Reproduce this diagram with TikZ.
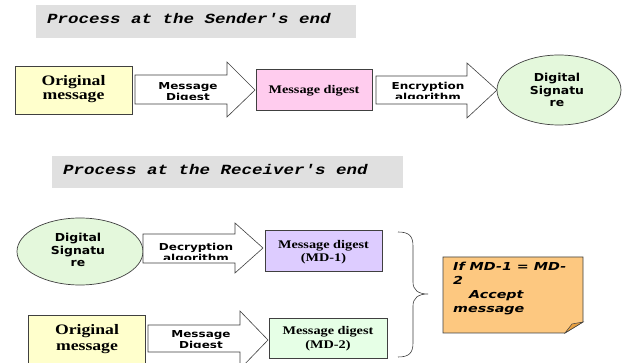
\documentclass[tikz,border=0pt]{standalone}
\usepackage{fontspec}
\usetikzlibrary{shapes.geometric}
\newfontfamily\lblfont[FakeStretch=1.25]{DejaVu Sans}
\newfontfamily\ellfont[FakeStretch=1.13]{DejaVu Sans}
\newfontfamily\notefont[FakeStretch=1.3]{DejaVu Sans}
\newfontfamily\boxfont[FakeStretch=1.22]{Liberation Serif}
\newfontfamily\titlefont[FakeStretch=1.25]{Liberation Mono}
\definecolor{yel}{HTML}{FFFFCC}
\definecolor{pnk}{HTML}{FFCCEE}
\definecolor{grn}{HTML}{E4F8DC}
\definecolor{lav}{HTML}{DDCCFF}
\definecolor{lgrn}{HTML}{E6FFE6}
\definecolor{org}{HTML}{FDC880}
\definecolor{orgd}{HTML}{E8A040}
\definecolor{ttl}{HTML}{E0E0E0}
\definecolor{edge}{HTML}{404040}
\begin{document}
\begin{tikzpicture}[x=1pt,y=-1pt,
  box/.style={draw=edge,line width=0.7pt,inner sep=0pt},
  ell/.style={ellipse,draw=edge,line width=0.7pt,fill=grn,inner sep=0pt},
  barrow/.style={draw=edge,line width=0.6pt,fill=white},
  ttlbox/.style={fill=ttl},
  ttltext/.style={anchor=base west,inner sep=0pt,font=\titlefont\bfseries\itshape\fontsize{14}{14}\selectfont},
  albl/.style={anchor=base,inner sep=0pt,align=center,font=\lblfont\bfseries\fontsize{9.6}{11}\selectfont},
  blbl/.style={anchor=base,inner sep=0pt,align=center},
  elbl/.style={anchor=base,inner sep=0pt,align=center,font=\ellfont\bfseries\fontsize{11}{12.6}\selectfont}]
\useasboundingbox (0,0) rectangle (622,363);
\clip (0,0) rectangle (622,363);
\fill[white] (0,0) rectangle (622,363);

% ---- Sender title
\fill[ttlbox] (36,5) rectangle (356,38);
\node[ttltext] (t1) at (47,24) {Process at the Sender's end};

% ---- Sender row
\node[box,fill=yel,minimum width=117pt,minimum height=48pt] (om1) at (73.5,90) {};
\node[blbl,font=\boxfont\bfseries\fontsize{14.5}{14}\selectfont] at (73.5,100) {Original\\message};

\draw[barrow] (135,75) -- (227,75) -- (227,62) -- (255,90) -- (227,117) -- (227,104) -- (135,104) -- cycle;
\begin{scope}
\clip (135,75) rectangle (227,99.5);
\node[albl] (l1) at (188,100.3) {Message\\Digest};
\end{scope}

\node[box,fill=pnk,minimum width=116pt,minimum height=41pt] (md) at (314,89.5) {};
\node[blbl,font=\boxfont\bfseries\fontsize{11.7}{13}\selectfont] at (314,94) {Message digest};

\draw[barrow] (376,76) -- (467,76) -- (467,63) -- (497,90) -- (467,118) -- (467,104) -- (376,104) -- cycle;
\begin{scope}
\clip (376,76) rectangle (467,99);
\node[albl] (l2) at (428,101) {Encryption\\algorithm};
\end{scope}

\node[ell,minimum width=124pt,minimum height=70pt] (ds1) at (559,90) {};
\node[elbl] at (557,106.7) {Digital\\Signatu\\re};

% ---- Receiver title
\fill[ttlbox] (52,156) rectangle (403,188);
\node[ttltext] (t2) at (63,175) {Process at the Receiver's end};

% ---- Receiver row 1
\node[ell,minimum width=126pt,minimum height=67pt] (ds2) at (80,251.5) {};
\node[elbl] at (78,267) {Digital\\Signatu\\re};

\draw[barrow] (143,234) -- (235,234) -- (235,223) -- (263,248) -- (235,273) -- (235,263) -- (143,263) -- cycle;
\begin{scope}
\clip (143,234) rectangle (235,260);
\node[albl] (l3) at (196,262) {Decryption\\algorithm};
\end{scope}

\node[box,fill=lav,minimum width=117pt,minimum height=41pt] (md1) at (323.5,250.5) {};
\node[blbl,font=\boxfont\bfseries\fontsize{11.7}{13.7}\selectfont] at (323.5,262) {Message digest\\(MD-1)};

% ---- Receiver row 2
\node[box,fill=yel,minimum width=117pt,minimum height=49pt] (om2) at (86.5,339.5) {};
\node[blbl,font=\boxfont\bfseries\fontsize{14.5}{16}\selectfont] at (87,351) {Original\\message};

\draw[barrow] (148,325) -- (240,325) -- (240,311) -- (268,340) -- (240,369) -- (240,352) -- (148,352) -- cycle;
\begin{scope}
\clip (148,325) rectangle (240,348);
\node[albl] (l4) at (201,348.5) {Message\\Digest};
\end{scope}

\node[box,fill=lgrn,minimum width=118pt,minimum height=40pt] (md2) at (328,338) {};
\node[blbl,font=\boxfont\bfseries\fontsize{11.7}{13.3}\selectfont] at (328,348.3) {Message digest\\(MD-2)};

% ---- Brace
\draw[line width=0.6pt,edge] (398,232) .. controls (409,232) and (413,236) .. (413,246) -- (413,282)
  .. controls (413,290) and (418,294) .. (428,294)
  .. controls (418,294) and (413,298) .. (413,306) -- (413,343)
  .. controls (413,353) and (409,357) .. (398,357);

% ---- Note
\draw[line width=0.7pt,draw=edge,fill=org] (443,257) -- (583,257) -- (583,322) -- (565,333) -- (443,333) -- cycle;
\draw[line width=0.5pt,draw=edge,fill=orgd] (565,333) -- (572,324) -- (583,322) -- cycle;
\node[anchor=base west,inner sep=0pt,align=left,font=\notefont\bfseries\itshape\fontsize{11}{14}\selectfont] (note) at (453,313)
  {If MD-1 = MD-\\2\\\hspace*{16pt}Accept\\message};
\end{tikzpicture}
\end{document}
